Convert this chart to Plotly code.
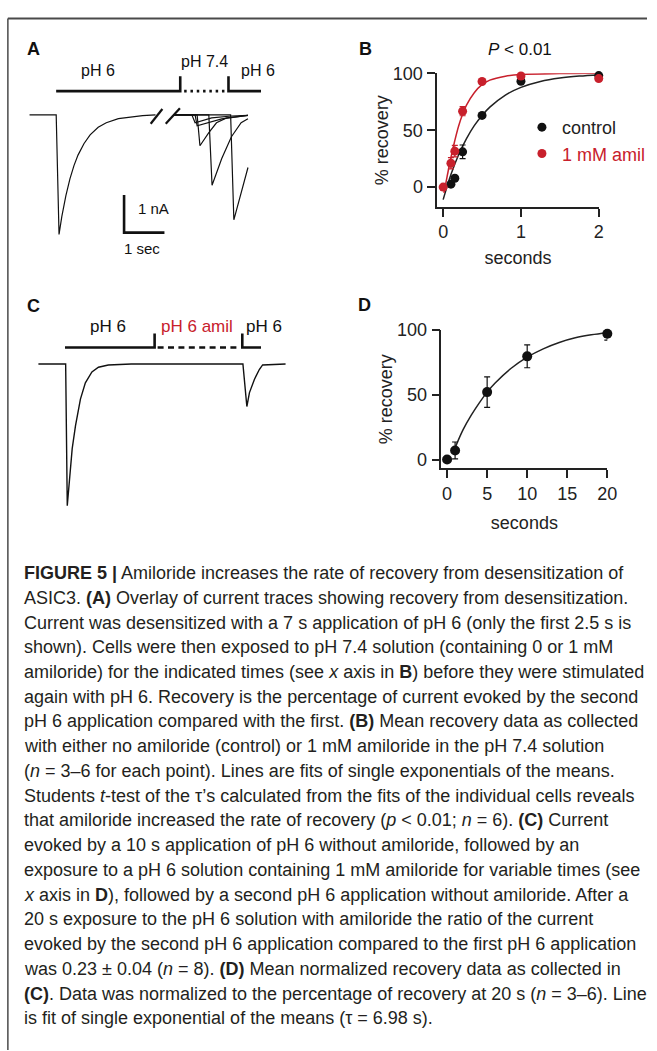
import plotly.graph_objects as go

W, H = 657, 1051
FONT = "Liberation Sans, Arial, sans-serif"
INK = "#222222"
RED = "#c8202c"

# ---------------- Panel A: current traces (time in s, current in nA) ----------------
a_first_t = [0, 0.66, 0.73, 0.8, 0.9, 1.0, 1.1, 1.2, 1.35, 1.5, 1.7, 1.9, 2.2, 2.5, 2.8, 3.12]
a_first_i = [0, 0, -3.18, -2.7, -2.15, -1.7, -1.35, -1.07, -0.76, -0.53, -0.33, -0.21, -0.1, -0.05, -0.02, 0]

a_sweep1_t = [3.56, 4.02, 4.10, 4.51, 5.0, 5.41]
a_sweep1_i = [0, 0, -0.21, -0.08, -0.03, -0.01]
a_sweep2_t = [3.56, 4.10, 4.15, 4.76, 5.41]
a_sweep2_i = [0, 0, -0.29, -0.105, -0.013]
a_sweep3_t = [3.56, 4.15, 4.22, 4.44, 4.63, 4.88, 5.41]
a_sweep3_i = [0, 0, -0.82, -0.47, -0.21, -0.08, -0.013]
a_sweep4_t = [3.56, 4.44, 4.52, 4.76, 5.0, 5.24, 5.41]
a_sweep4_i = [0, 0, -1.87, -1.16, -0.58, -0.21, -0.105]
a_sweep5_t = [3.56, 4.98, 5.06, 5.23, 5.41]
a_sweep5_i = [0, 0, -2.79, -2.08, -1.40]

a_break1_t = [3.0, 3.29]
a_break1_i = [-0.237, 0.158]
a_break2_t = [3.373, 3.724]
a_break2_i = [-0.237, 0.176]

a_bar1_t = [0.659, 3.732, 3.732]
a_bar1_i = [0.632, 0.632, 1.026]
a_bar_dot_t = [3.829, 4.878]
a_bar_dot_i = [0.632, 0.632]
a_bar2_t = [4.927, 4.927, 5.732]
a_bar2_i = [1.026, 0.632, 0.632]

a_scale_t = [2.341, 2.341, 3.341]
a_scale_i = [-2.132, -3.132, -3.132]

a_labels = ["pH 6", "pH 7.4", "pH 6"]
a_label_t = [1.707, 4.341, 5.66]
a_label_i = [1.184, 1.42, 1.184]

# ---------------- Panel B: recovery (seconds, %) ----------------
b_x_ctrl = [0.1, 0.15, 0.25, 0.5, 1.0, 2.0]
b_y_ctrl = [2.6, 7.8, 31, 63, 93, 98]
b_e_ctrl = [1.5, 1.5, 6, 2, 2, 1.5]
b_x_amil = [0, 0.1, 0.15, 0.25, 0.5, 1.0, 2.0]
b_y_amil = [0, 21, 31.6, 66.7, 92.8, 97.7, 95.4]
b_e_amil = [2, 5, 5, 4, 2, 3, 1.5]

b_fit_ctrl_x = [0.0, 0.1, 0.2, 0.3, 0.4, 0.5, 0.6, 0.8, 1.0, 1.25, 1.5, 1.75, 2.0]
b_fit_ctrl_y = [-11, 11, 28.6, 42.6, 54, 63, 70.3, 80.9, 87.7, 92.9, 95.9, 97.6, 98.6]
b_fit_amil_x = [0.01, 0.05, 0.1, 0.15, 0.2, 0.25, 0.3, 0.4, 0.5, 0.6, 0.8, 1.0, 1.5, 2.0]
b_fit_amil_y = [-5, 9, 26, 41, 54, 64, 72, 83, 90, 94, 97.5, 99, 99.8, 100]

# ---------------- Panel C: trace (time s, normalized current) ----------------
c_t = [0, 3.04, 3.22, 3.48, 3.77, 4.14, 4.69, 5.24, 5.97, 6.70, 7.80, 10.36,
       22.82, 23.26, 23.55, 24.10, 24.65, 25.02, 27.58]
c_i = [0, 0, -1.0, -0.807, -0.597, -0.435, -0.248, -0.133, -0.056, -0.023, -0.007, 0,
       0, -0.30, -0.202, -0.109, -0.039, -0.007, 0]
c_bar1_t = [2.967, 12.967, 12.967]
c_bar1_i = [0.1165, 0.1165, 0.214]
c_bar_dash_t = [13.30, 22.42]
c_bar_dash_i = [0.1165, 0.1165]
c_bar2_t = [22.75, 22.75, 24.84]
c_bar2_i = [0.214, 0.1165, 0.1165]
c_labels = ["pH 6", "pH 6 amil", "pH 6"]
c_label_t = [7.80, 17.69, 25.16]
c_label_i = [0.263, 0.263, 0.263]

# ---------------- Panel D ----------------
d_x = [0, 1, 5, 10, 20]
d_y = [0, 7, 52, 79.6, 97]
d_e = [1, 6.5, 11.8, 8.8, 4.8]
d_fit_x = [1, 2, 3, 4, 5, 6, 8, 10, 12, 14, 16, 18, 20]
d_fit_y = [9, 23, 34, 43.5, 52, 59, 70.4, 79, 85.4, 90.3, 93.9, 96.2, 97.8]

caption_lines = [
    "<b>FIGURE 5 |</b> Amiloride increases the rate of recovery from desensitization of",
    "ASIC3. <b>(A)</b> Overlay of current traces showing recovery from desensitization.",
    "Current was desensitized with a 7 s application of pH 6 (only the first 2.5 s is",
    "shown). Cells were then exposed to pH 7.4 solution (containing 0 or 1 mM",
    "amiloride) for the indicated times (see <i>x</i> axis in <b>B</b>) before they were stimulated",
    "again with pH 6. Recovery is the percentage of current evoked by the second",
    "pH 6 application compared with the first. <b>(B)</b> Mean recovery data as collected",
    "with either no amiloride (control) or 1 mM amiloride in the pH 7.4 solution",
    "(<i>n</i> = 3–6 for each point). Lines are fits of single exponentials of the means.",
    "Students <i>t</i>-test of the τ’s calculated from the fits of the individual cells reveals",
    "that amiloride increased the rate of recovery (<i>p</i> &lt; 0.01; <i>n</i> = 6). <b>(C)</b> Current",
    "evoked by a 10 s application of pH 6 without amiloride, followed by an",
    "exposure to a pH 6 solution containing 1 mM amiloride for variable times (see",
    "<i>x</i> axis in <b>D</b>), followed by a second pH 6 application without amiloride. After a",
    "20 s exposure to the pH 6 solution with amiloride the ratio of the current",
    "evoked by the second pH 6 application compared to the first pH 6 application",
    "was 0.23 ± 0.04 (<i>n</i> = 8). <b>(D)</b> Mean normalized recovery data as collected in",
    "<b>(C)</b>. Data was normalized to the percentage of recovery at 20 s (<i>n</i> = 3–6). Line",
    "is fit of single exponential of the means (τ = 6.98 s).",
]


def px(x):
    return x / W


def py(y):
    return 1 - y / H


fig = go.Figure()

trace_line = dict(color="#111111", width=1.2)
bar_line = dict(color="#111111", width=2.6)

# Panel A
fig.add_trace(go.Scatter(x=a_first_t, y=a_first_i, mode="lines", line=trace_line, xaxis="x", yaxis="y", showlegend=False))
for tt, ii in [(a_sweep1_t, a_sweep1_i), (a_sweep2_t, a_sweep2_i), (a_sweep3_t, a_sweep3_i),
               (a_sweep4_t, a_sweep4_i), (a_sweep5_t, a_sweep5_i)]:
    fig.add_trace(go.Scatter(x=tt, y=ii, mode="lines", line=trace_line, xaxis="x", yaxis="y", showlegend=False))
for tt, ii in [(a_break1_t, a_break1_i), (a_break2_t, a_break2_i)]:
    fig.add_trace(go.Scatter(x=tt, y=ii, mode="lines", line=dict(color="#111111", width=2.2), xaxis="x", yaxis="y", showlegend=False))
for tt, ii in [(a_bar1_t, a_bar1_i), (a_bar2_t, a_bar2_i), (a_scale_t, a_scale_i)]:
    fig.add_trace(go.Scatter(x=tt, y=ii, mode="lines", line=bar_line, xaxis="x", yaxis="y", showlegend=False))
fig.add_trace(go.Scatter(x=a_bar_dot_t, y=a_bar_dot_i, mode="lines",
                         line=dict(color="#111111", width=2.6, dash="2.5px,3.8px"),
                         xaxis="x", yaxis="y", showlegend=False))

# Panel B
fig.add_trace(go.Scatter(x=b_fit_ctrl_x, y=b_fit_ctrl_y, mode="lines", line=dict(color="#222222", width=1.5, shape="spline"),
                         xaxis="x2", yaxis="y2", showlegend=False, cliponaxis=False))
fig.add_trace(go.Scatter(x=b_fit_amil_x, y=b_fit_amil_y, mode="lines", line=dict(color=RED, width=1.5, shape="spline"),
                         xaxis="x2", yaxis="y2", showlegend=False, cliponaxis=False))
fig.add_trace(go.Scatter(x=b_x_ctrl, y=b_y_ctrl, mode="markers", name="control",
                         marker=dict(color="#111111", size=9),
                         error_y=dict(type="data", array=b_e_ctrl, color="#111111", thickness=1.2, width=3),
                         xaxis="x2", yaxis="y2", cliponaxis=False, legendgroup="a"))
fig.add_trace(go.Scatter(x=b_x_amil, y=b_y_amil, mode="markers",
                         name="<span style='color:%s'>1 mM amil</span>" % RED,
                         marker=dict(color=RED, size=9),
                         error_y=dict(type="data", array=b_e_amil, color=RED, thickness=1.2, width=3),
                         xaxis="x2", yaxis="y2", cliponaxis=False, legendgroup="b"))

# Panel C
fig.add_trace(go.Scatter(x=c_t, y=c_i, mode="lines", line=dict(color="#111111", width=1.4), xaxis="x3", yaxis="y3", showlegend=False))
for tt, ii in [(c_bar1_t, c_bar1_i), (c_bar2_t, c_bar2_i)]:
    fig.add_trace(go.Scatter(x=tt, y=ii, mode="lines", line=bar_line, xaxis="x3", yaxis="y3", showlegend=False))
fig.add_trace(go.Scatter(x=c_bar_dash_t, y=c_bar_dash_i, mode="lines",
                         line=dict(color="#111111", width=2.6, dash="6px,4.4px"),
                         xaxis="x3", yaxis="y3", showlegend=False))

# Panel D
fig.add_trace(go.Scatter(x=d_fit_x, y=d_fit_y, mode="lines", line=dict(color="#222222", width=1.5, shape="spline"),
                         xaxis="x4", yaxis="y4", showlegend=False, cliponaxis=False))
fig.add_trace(go.Scatter(x=d_x, y=d_y, mode="markers", marker=dict(color="#111111", size=10),
                         error_y=dict(type="data", array=d_e, color="#111111", thickness=1.2, width=3),
                         xaxis="x4", yaxis="y4", showlegend=False, cliponaxis=False))

hidden = dict(visible=False, showgrid=False, zeroline=False)
axis_style = dict(showline=True, linecolor=INK, linewidth=1.5, ticks="outside", ticklen=8, tickwidth=1.5,
                  tickcolor=INK, showgrid=False, zeroline=False, tickfont=dict(size=18, color=INK))

fig.update_layout(
    width=W, height=H,
    margin=dict(l=0, r=0, t=0, b=0),
    paper_bgcolor="white", plot_bgcolor="rgba(0,0,0,0)",
    font=dict(family=FONT, color=INK, size=16),
    xaxis=dict(domain=[px(20), px(300)], range=[-0.244, 6.585], anchor="y", **hidden),
    yaxis=dict(domain=[py(260), py(40)], range=[-4.053, 1.737], anchor="x", **hidden),
    xaxis2=dict(domain=[px(444), px(608)], range=[-0.076, 2.0], anchor="y2", tickvals=[0, 1, 2],
                title=dict(text="seconds", font=dict(size=18, color=INK), standoff=10), **axis_style),
    yaxis2=dict(domain=[py(199), py(64)], range=[-17.4, 100], anchor="x2", tickvals=[0, 50, 100],
                ticklabelstandoff=1,
                title=dict(text="% recovery", font=dict(size=18, color=INK), standoff=0), **axis_style),
    xaxis3=dict(domain=[px(30), px(300)], range=[-0.989, 28.68], anchor="y3", **hidden),
    yaxis3=dict(domain=[py(520), py(300)], range=[-1.1326, 0.4027], anchor="x3", **hidden),
    xaxis4=dict(domain=[px(448.3), px(616.7)], range=[-0.7, 20], anchor="y4", tickvals=[0, 5, 10, 15, 20],
                title=dict(text="seconds", font=dict(size=18, color=INK), standoff=14), **axis_style),
    yaxis4=dict(domain=[py(463.3), py(323.3)], range=[-6.9, 100], anchor="x4", tickvals=[0, 50, 100],
                ticklabelstandoff=1,
                title=dict(text="% recovery", font=dict(size=18, color=INK), standoff=0), **axis_style),
    legend=dict(x=px(530), y=py(100), xanchor="left", yanchor="top", bgcolor="rgba(0,0,0,0)",
                font=dict(size=18, color=INK), itemwidth=30, tracegroupgap=10, traceorder="normal"),
    showlegend=True,
)

annotations = []
for lab, x, y in [("A", 34, 39), ("B", 371, 39), ("C", 34, 299), ("D", 370, 298)]:
    annotations.append(dict(text="<b>%s</b>" % lab, x=px(x), y=py(y), xref="paper", yref="paper",
                            showarrow=False, font=dict(size=18, color="#111111"), xanchor="center", yanchor="middle"))
annotations.append(dict(text="<i>P</i> &lt; 0.01", x=px(528), y=py(40), xref="paper", yref="paper",
                        showarrow=False, font=dict(size=17, color="#111111"), xanchor="center", yanchor="middle"))
for lab, t, i in zip(a_labels, a_label_t, a_label_i):
    annotations.append(dict(text=lab, x=t, y=i, xref="x", yref="y", showarrow=False,
                            font=dict(size=16, color="#111111"), xanchor="center", yanchor="middle"))
annotations.append(dict(text="1 nA", x=2.634, y=-2.5, xref="x", yref="y", showarrow=False,
                        font=dict(size=15, color="#111111"), xanchor="left", yanchor="middle"))
annotations.append(dict(text="1 sec", x=2.78, y=-3.553, xref="x", yref="y", showarrow=False,
                        font=dict(size=15, color="#111111"), xanchor="center", yanchor="middle"))
for lab, t, i in zip(c_labels, c_label_t, c_label_i):
    annotations.append(dict(text=lab, x=t, y=i, xref="x3", yref="y3", showarrow=False,
                            font=dict(size=17, color=RED if "amil" in lab else "#111111"),
                            xanchor="center", yanchor="middle"))

line0, spacing = 569, 25.0
for k, txt in enumerate(caption_lines):
    annotations.append(dict(text=txt, x=px(22), y=py(line0 + k * spacing), xref="paper", yref="paper",
                            showarrow=False, font=dict(size=18, color="#231f20"), xanchor="left", yanchor="middle"))
fig.update_layout(annotations=annotations)

fig.add_shape(type="line", xref="paper", yref="paper", x0=px(8), x1=1, y0=py(8.5), y1=py(8.5),
              line=dict(color="#4a4a4a", width=2))
fig.add_shape(type="line", xref="paper", yref="paper", x0=px(8), x1=px(8), y0=py(8.5), y1=0,
              line=dict(color="#4a4a4a", width=1.5))

fig.write_html("out.html", config={"displayModeBar": False},
               post_script="document.body.style.margin='0';document.body.style.overflow='hidden';")
